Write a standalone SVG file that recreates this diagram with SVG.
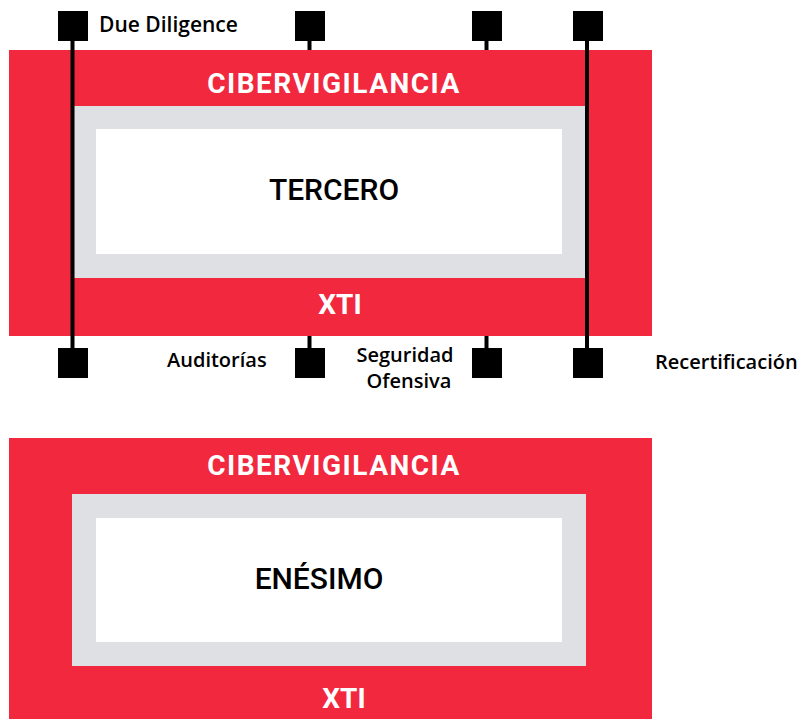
<svg xmlns="http://www.w3.org/2000/svg" width="804" height="719" viewBox="0 0 804 719">
<style>
.red{fill:#F2283E}
.gray{fill:#DFE0E4}
.white{fill:#FFFFFF}
.band{font-family:Roboto,"Liberation Sans",sans-serif;font-weight:700;font-size:28px;fill:#FFFFFF;text-anchor:middle}
.wide{letter-spacing:1.5px}
.core{font-family:Roboto,"Liberation Sans",sans-serif;font-weight:500;font-size:30px;fill:#000000;text-anchor:middle}
.lbl{font-family:"Open Sans","DejaVu Sans",sans-serif;font-weight:600;font-size:20px;fill:#000000}
.sq{fill:#000000}
.conn{stroke:#000000;stroke-width:4;fill:none}
</style>
<g id="tercero">
<rect class="red" x="9" y="50" width="643" height="286"/>
<rect class="gray" x="73" y="106" width="513" height="172"/>
<rect class="white" x="96" y="129" width="466" height="125"/>
<text class="band wide" x="334" y="93">CIBERVIGILANCIA</text>
<text class="core" x="334" y="200">TERCERO</text>
<text class="band" x="340" y="314">XTI</text>
</g>
<g id="enesimo">
<rect class="red" x="9" y="438" width="643" height="281"/>
<rect class="gray" x="72" y="494" width="514" height="172"/>
<rect class="white" x="96" y="518" width="466" height="124"/>
<text class="band wide" x="334" y="475">CIBERVIGILANCIA</text>
<text class="core" x="319" y="589">ENÉSIMO</text>
<text class="band" x="344" y="708">XTI</text>
</g>
<g id="connectors">
<line class="conn" x1="72.5" y1="41" x2="72.5" y2="348"/>
<line class="conn" x1="587" y1="41" x2="587" y2="348"/>
<line class="conn" x1="309.5" y1="41" x2="309.5" y2="50"/>
<line class="conn" x1="309.5" y1="336" x2="309.5" y2="348"/>
<line class="conn" x1="486.5" y1="41" x2="486.5" y2="50"/>
<line class="conn" x1="486.5" y1="336" x2="486.5" y2="348"/>
</g>
<g id="due-diligence">
<rect class="sq" x="58" y="11" width="30" height="30"/>
<text class="lbl" x="99" y="32" style="font-size:21px">Due Diligence</text>
</g>
<g id="top-2"><rect class="sq" x="295" y="11" width="30" height="30"/></g>
<g id="top-3"><rect class="sq" x="472" y="11" width="30" height="30"/></g>
<g id="top-4"><rect class="sq" x="573" y="11" width="30" height="30"/></g>
<g id="bottom-1"><rect class="sq" x="58" y="348" width="30" height="30"/></g>
<g id="auditorias">
<rect class="sq" x="295" y="348" width="30" height="30"/>
<text class="lbl" x="167" y="367">Auditorías</text>
</g>
<g id="seguridad-ofensiva">
<rect class="sq" x="472" y="348" width="30" height="30"/>
<text class="lbl" x="405" y="362" text-anchor="middle">Seguridad</text>
<text class="lbl" x="409" y="388" text-anchor="middle">Ofensiva</text>
</g>
<g id="recertificacion">
<rect class="sq" x="573" y="348" width="30" height="30"/>
<text class="lbl" x="655" y="369">Recertificación</text>
</g>
</svg>
